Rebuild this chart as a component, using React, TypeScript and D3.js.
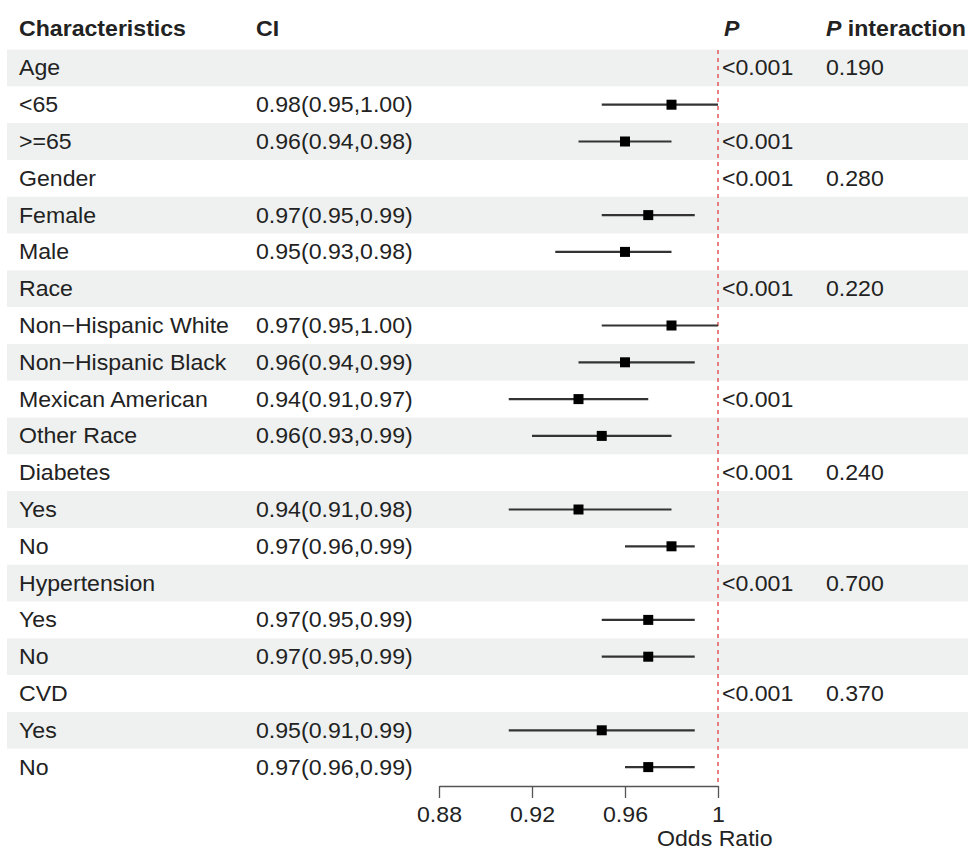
import { useEffect, useRef } from 'react';
import * as d3 from "d3";

// rows of the forest table
const labels = ["Age", "<65", ">=65", "Gender", "Female", "Male", "Race", "Non\u2212Hispanic White", "Non\u2212Hispanic Black", "Mexican American", "Other Race", "Diabetes", "Yes", "No", "Hypertension", "Yes", "No", "CVD", "Yes", "No"]
const ciText = ["", "0.98(0.95,1.00)", "0.96(0.94,0.98)", "", "0.97(0.95,0.99)", "0.95(0.93,0.98)", "", "0.97(0.95,1.00)", "0.96(0.94,0.99)", "0.94(0.91,0.97)", "0.96(0.93,0.99)", "", "0.94(0.91,0.98)", "0.97(0.96,0.99)", "", "0.97(0.95,0.99)", "0.97(0.95,0.99)", "", "0.95(0.91,0.99)", "0.97(0.96,0.99)"]
// plotted estimates
const estimate = [null, 0.98, 0.96, null, 0.97, 0.96, null, 0.98, 0.96, 0.94, 0.95, null, 0.94, 0.98, null, 0.97, 0.97, null, 0.95, 0.97]
const lower = [null, 0.95, 0.94, null, 0.95, 0.93, null, 0.95, 0.94, 0.91, 0.92, null, 0.91, 0.96, null, 0.95, 0.95, null, 0.91, 0.96]
const upper = [null, 1.00, 0.98, null, 0.99, 0.98, null, 1.00, 0.99, 0.97, 0.98, null, 0.98, 0.99, null, 0.99, 0.99, null, 0.99, 0.99]
const pText = ["<0.001", "", "<0.001", "<0.001", "", "", "<0.001", "", "", "<0.001", "", "<0.001", "", "", "<0.001", "", "", "<0.001", "", ""]
const pInter = ["0.190", "", "", "0.280", "", "", "0.220", "", "", "", "", "0.240", "", "", "0.700", "", "", "0.370", "", ""]
const xTicks = [0.88, 0.92, 0.96, 1]

const W = 968
const H = 852
const FS = 21.5
const SX = 1.075
const ink = "#222"

const Txt = ({ x, y, children, bold, italic }: any) => (
     <g transform={`translate(${x},${y}) scale(${SX},1)`}>
          <text fontSize={FS} fill={ink} fontWeight={bold ? "bold" : "normal"} fontStyle={italic ? "italic" : "normal"}>{children}</text>
     </g>
)

export default function App() {
     const axisRef = useRef<SVGGElement>(null)

     const x = d3.scaleLinear().domain([0.88, 1]).range([439, 718])
     const y = d3.scaleBand<number>()
          .domain(labels.map((_, i) => i))
          .range([49.5, 785.5])
     const bh = y.bandwidth()

     useEffect(() => {
          if (!axisRef.current) return
          const g = d3.select(axisRef.current)
          g.call(
               d3.axisBottom(x)
                    .tickValues(xTicks)
                    .tickSize(12)
                    .tickSizeOuter(0)
                    .tickPadding(9)
                    .tickFormat((d: any) => String(+(+d).toFixed(2)))
          )
          g.select(".domain").attr("stroke", "#555").attr("stroke-width", 1.3)
          g.selectAll(".tick line").attr("stroke", "#555").attr("stroke-width", 1.3)
          g.selectAll(".tick text")
               .attr("font-size", FS)
               .attr("font-family", "Liberation Sans, Arial, sans-serif")
               .attr("fill", ink)
               .attr("transform", `scale(${SX},1)`)
     }, [])

     return (
          <div style={{ position: "absolute", left: 0, top: 0 }}>
               <svg width={W} height={H} fontFamily="Liberation Sans, Arial, sans-serif" style={{ display: "block", background: "#fff" }}>
                    {labels.map((_, i) => i % 2 === 0 ? (
                         <rect key={"b" + i} x={7} y={y(i)} width={W - 7} height={bh} fill="#eff1f0" />
                    ) : null)}

                    <Txt x={19} y={36} bold>Characteristics</Txt>
                    <Txt x={256} y={36} bold>CI</Txt>
                    <Txt x={724} y={36} bold italic>P</Txt>
                    <g transform={`translate(826,36) scale(${SX},1)`}>
                         <text fontSize={FS} fill={ink} fontWeight="bold">
                              <tspan fontStyle="italic">P</tspan> interaction
                         </text>
                    </g>

                    {labels.map((lab, i) => {
                         const cy = (y(i) as number) + bh / 2
                         return (
                              <g key={"r" + i}>
                                   <Txt x={19} y={cy + 7.5}>{lab}</Txt>
                                   {ciText[i] && <Txt x={256} y={cy + 7.5}>{ciText[i]}</Txt>}
                                   {pText[i] && <Txt x={722} y={cy + 7.5}>{pText[i]}</Txt>}
                                   {pInter[i] && <Txt x={826} y={cy + 7.5}>{pInter[i]}</Txt>}
                              </g>
                         )
                    })}

                    <line x1={x(1)} x2={x(1)} y1={50} y2={786} stroke="#e05a5a" strokeWidth={1.5} strokeDasharray="4,4" />

                    {estimate.map((est, i) => {
                         if (est === null) return null
                         const cy = (y(i) as number) + bh / 2
                         return (
                              <g key={"m" + i}>
                                   <line x1={x(lower[i] as number)} x2={x(upper[i] as number)} y1={cy} y2={cy} stroke="#333" strokeWidth={2.2} />
                                   <rect x={x(est) - 5} y={cy - 5} width={10} height={10} fill="#000" />
                              </g>
                         )
                    })}

                    <g ref={axisRef} transform="translate(0,786)" />
                    <Txt x={657} y={846}>Odds Ratio</Txt>
               </svg>
          </div>
     )
}
